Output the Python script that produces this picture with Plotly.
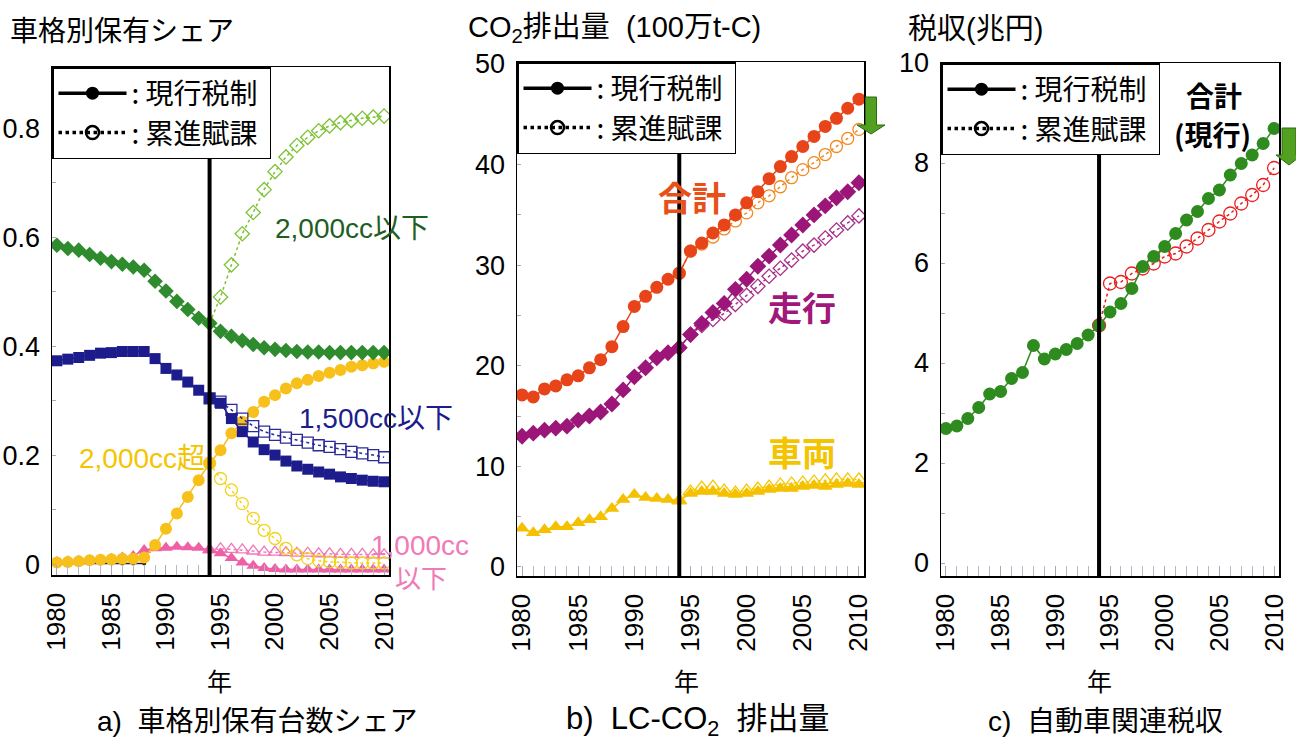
import plotly.graph_objects as go

W, H = 1296, 743
def px(x): return x / W
def py(y): return 1 - y / H

years = list(range(1980, 2011))
years_prog = list(range(1994, 2011))
years_other = list(range(1980, 1989))

# ---- a) 車格別保有台数シェア ----
share_2000below_cur = [0.585, 0.579, 0.576, 0.568, 0.561, 0.555, 0.550, 0.545, 0.539, 0.519, 0.501,
                       0.482, 0.467, 0.451, 0.442, 0.427, 0.418, 0.410, 0.403, 0.397, 0.394,
                       0.392, 0.390, 0.389, 0.389, 0.388, 0.388, 0.388, 0.388, 0.388, 0.388]
share_2000below_prog = [0.442, 0.490, 0.549, 0.606, 0.645, 0.687, 0.720, 0.747, 0.768, 0.783,
                        0.795, 0.804, 0.810, 0.814, 0.818, 0.820, 0.822]
share_1500below_cur = [0.373, 0.376, 0.379, 0.383, 0.387, 0.388, 0.390, 0.390, 0.390, 0.377, 0.359,
                       0.347, 0.334, 0.319, 0.304, 0.295, 0.267, 0.243, 0.224, 0.210, 0.200,
                       0.189, 0.180, 0.174, 0.169, 0.165, 0.160, 0.157, 0.154, 0.152, 0.151]
share_1500below_prog = [0.304, 0.298, 0.283, 0.267, 0.253, 0.243, 0.237, 0.232, 0.228, 0.223,
                        0.218, 0.215, 0.211, 0.206, 0.203, 0.200, 0.196]
share_2000over_cur = [0.003, 0.004, 0.005, 0.007, 0.008, 0.009, 0.010, 0.010, 0.012, 0.035, 0.065,
                      0.093, 0.123, 0.154, 0.185, 0.209, 0.240, 0.261, 0.279, 0.298, 0.310,
                      0.322, 0.332, 0.338, 0.345, 0.351, 0.356, 0.362, 0.365, 0.368, 0.371]
share_2000over_prog = [0.185, 0.157, 0.136, 0.111, 0.084, 0.062, 0.047, 0.029, 0.017, 0.010,
                       0.006, 0.004, 0.003, 0.002, 0.002, 0.002, 0.002]
share_1000below_cur = [0.004, 0.005, 0.006, 0.007, 0.008, 0.010, 0.012, 0.015, 0.026, 0.029, 0.030,
                       0.032, 0.031, 0.030, 0.026, 0.020, 0.011, 0.003, -0.003, -0.007, -0.009,
                       -0.010, -0.010, -0.010, -0.010, -0.010, -0.010, -0.010, -0.010, -0.010, -0.010]
share_1000below_prog = [0.026, 0.028, 0.027, 0.026, 0.024, 0.022, 0.022, 0.021, 0.020, 0.020,
                        0.019, 0.019, 0.018, 0.018, 0.018, 0.017, 0.017]
share_other = [0.001, 0.001, 0.001, 0.001, 0.001, 0.001, 0.001, 0.001, 0.001]

# ---- b) LC-CO2 排出量 ----
co2_total_cur = [17.1, 16.9, 17.7, 18.0, 18.6, 19.0, 19.8, 20.6, 21.9, 23.9, 25.9,
                 26.9, 27.8, 28.6, 29.2, 31.4, 32.2, 33.2, 34.0, 35.0, 36.2,
                 37.3, 38.6, 39.8, 40.8, 41.8, 42.8, 43.8, 44.6, 45.6, 46.5]
co2_total_prog = [29.2, 31.4, 32.1, 32.8, 33.6, 34.4, 35.2, 36.2, 36.9, 37.8, 38.7,
                  39.5, 40.2, 41.0, 41.8, 42.6, 43.5]
co2_run_cur = [13.0, 13.3, 13.6, 13.8, 14.0, 14.6, 15.0, 15.4, 16.2, 17.6, 18.9,
               19.8, 20.8, 21.3, 21.8, 23.1, 24.2, 25.3, 26.2, 27.6, 28.6,
               29.9, 30.9, 32.0, 33.0, 34.0, 35.0, 35.9, 36.7, 37.3, 38.2]
co2_run_prog = [21.8, 23.1, 24.0, 24.6, 25.2, 26.1, 27.0, 27.9, 28.9, 29.7, 30.5,
                31.4, 32.0, 32.7, 33.5, 34.2, 34.9]
co2_veh_cur = [3.85, 3.4, 3.7, 4.0, 4.0, 4.4, 4.7, 5.0, 5.8, 6.7, 7.2,
               6.9, 6.8, 6.7, 6.6, 7.3, 7.5, 7.5, 7.3, 7.2, 7.3,
               7.5, 7.7, 7.8, 7.8, 8.0, 8.1, 8.0, 8.2, 8.3, 8.2]
co2_veh_prog = [6.6, 7.5, 7.9, 8.0, 7.6, 7.4, 7.6, 7.8, 8.0, 8.2, 8.3,
                8.4, 8.5, 8.6, 8.7, 8.7, 8.7]

# ---- c) 自動車関連税収 ----
tax_cur = [2.69, 2.74, 2.89, 3.11, 3.38, 3.43, 3.69, 3.81, 4.35, 4.08, 4.18,
           4.27, 4.39, 4.56, 4.75, 5.02, 5.19, 5.49, 5.93, 6.13, 6.33,
           6.59, 6.86, 7.03, 7.29, 7.46, 7.76, 7.99, 8.16, 8.39, 8.69]
tax_prog = [4.75, 5.59, 5.62, 5.79, 5.89, 5.99, 6.13, 6.19, 6.33, 6.49, 6.66,
            6.83, 6.99, 7.19, 7.36, 7.56, 7.90]

policy_year = 1994

NUM = "Liberation Sans, Arial, sans-serif"
JP = "Noto Sans CJK JP, Liberation Sans, sans-serif"
MIX = "Liberation Sans, Noto Sans CJK JP, sans-serif"

fig = go.Figure()

def cur(x, y, color, symbol, size, ax, name):
    fig.add_trace(go.Scatter(x=x, y=y, mode="lines+markers", name=name, showlegend=False,
                             line=dict(color=color, width=1.5),
                             marker=dict(symbol=symbol, size=size, color=color),
                             xaxis=ax[0], yaxis=ax[1]))

def prog(x, y, color, symbol, size, ax, name):
    fig.add_trace(go.Scatter(x=x, y=y, mode="lines+markers", name=name, showlegend=False,
                             line=dict(color=color, width=1.5, dash="dot"),
                             marker=dict(symbol=symbol, size=size, color=color,
                                         line=dict(color=color, width=1.3)),
                             xaxis=ax[0], yaxis=ax[1]))

A = ("x", "y"); B = ("x2", "y2"); C = ("x3", "y3")

# panel a
cur(years_other, share_other, "#222222", "circle", 4, A, "その他")
prog(years_prog, share_1000below_prog, "#f07ab8", "triangle-up-open", 12, A, "1,000cc以下 累進")
cur(years, share_1000below_cur, "#ee5fa6", "triangle-up", 12, A, "1,000cc以下 現行")
prog(years_prog, share_2000over_prog, "#f2d21a", "circle-open", 12, A, "2,000cc超 累進")
cur(years, share_2000over_cur, "#f7c01a", "circle", 12, A, "2,000cc超 現行")
prog(years_prog, share_1500below_prog, "#2a2a9a", "square-open", 11, A, "1,500cc以下 累進")
cur(years, share_1500below_cur, "#1c1c8c", "square", 11, A, "1,500cc以下 現行")
prog(years_prog, share_2000below_prog, "#7cc234", "diamond-open", 11, A, "2,000cc以下 累進")
cur(years, share_2000below_cur, "#2e8b2e", "diamond", 12, A, "2,000cc以下 現行")

# panel b
prog(years_prog, co2_veh_prog, "#f5c800", "triangle-up-open", 13, B, "車両 累進")
cur(years, co2_veh_cur, "#f5c000", "triangle-up", 13, B, "車両 現行")
prog(years_prog, co2_run_prog, "#a8308a", "diamond-open", 11, B, "走行 累進")
cur(years, co2_run_cur, "#9c1578", "diamond", 13, B, "走行 現行")
prog(years_prog, co2_total_prog, "#f08a20", "circle-open", 12, B, "合計 累進")
cur(years, co2_total_cur, "#e8441a", "circle", 13, B, "合計 現行")

# panel c
prog(years_prog, tax_prog, "#e82020", "circle-open", 13, C, "税収 累進")
cur(years, tax_cur, "#2e8b1e", "circle", 13, C, "税収 現行")

# legends (one per panel)
for lg, ax in (("legend", A), ("legend2", B), ("legend3", C)):
    fig.add_trace(go.Scatter(x=[None], y=[None], mode="lines+markers", name=": 現行税制 ",
                             legend=lg, line=dict(color="black", width=3.5),
                             marker=dict(symbol="circle", size=13, color="black"),
                             xaxis=ax[0], yaxis=ax[1]))
    fig.add_trace(go.Scatter(x=[None], y=[None], mode="lines+markers", name=": 累進賦課 ",
                             legend=lg, line=dict(color="black", width=3.5, dash="dot"),
                             marker=dict(symbol="circle-open", size=13, color="black",
                                         line=dict(width=2.5, color="black")),
                             xaxis=ax[0], yaxis=ax[1]))

dom = {
    "a": ([52, 389], [67, 575]),
    "b": ([517, 864], [62, 576]),
    "c": ([941, 1279], [63, 576]),
}
def xd(k): return [px(dom[k][0][0]), px(dom[k][0][1])]
def yd(k): return [py(dom[k][1][1]), py(dom[k][1][0])]

xtickfont = dict(family=NUM, size=26, color="black")
ytickfont = dict(family=NUM, size=27, color="black")
xcommon = dict(range=[1979.55, 2010.45], tickmode="linear", tick0=1980, dtick=5, tickangle=-90,
               ticks="inside", ticklen=10, tickcolor="#a8a8b8", tickwidth=1,
               minor=dict(dtick=1, ticks="inside", ticklen=10, tickcolor="#b8b8c8", tickwidth=1),
               showgrid=False, zeroline=False, showline=True, linecolor="black", linewidth=1.5,
               mirror=True, tickfont=xtickfont, ticklabelstandoff=6, automargin=False)
ycommon = dict(ticks="inside", ticklen=4, tickcolor="#a8a8b8", showgrid=False, zeroline=False,
               showline=True, linecolor="black", linewidth=1.5, mirror=True, tickfont=ytickfont,
               ticklabelstandoff=5, automargin=False)

fig.update_layout(
    template="none",
    width=W, height=H, margin=dict(l=0, r=0, t=0, b=0, pad=0), autosize=False,
    paper_bgcolor="white", plot_bgcolor="white",
    xaxis=dict(domain=xd("a"), anchor="y", **xcommon),
    yaxis=dict(domain=yd("a"), anchor="x", range=[-0.02, 0.912],
               tickvals=[0, 0.2, 0.4, 0.6, 0.8], ticktext=["0", "0.2", "0.4", "0.6", "0.8"],
               minor=dict(tickvals=[0.1, 0.3, 0.5, 0.7], ticks="inside", ticklen=4, tickcolor="#a8a8b8"),
               **ycommon),
    xaxis2=dict(domain=xd("b"), anchor="y2", **xcommon),
    yaxis2=dict(domain=yd("b"), anchor="x2", range=[-0.9, 50.2], tickmode="linear", tick0=0, dtick=10,
                minor=dict(dtick=5, ticks="inside", ticklen=4, tickcolor="#a8a8b8"), **ycommon),
    xaxis3=dict(domain=xd("c"), anchor="y3", **xcommon),
    yaxis3=dict(domain=yd("c"), anchor="x3", range=[-0.26, 10.0], tickmode="linear", tick0=0, dtick=2,
                minor=dict(dtick=1, ticks="inside", ticklen=4, tickcolor="#a8a8b8"), **ycommon),
)

legstyle = dict(bgcolor="white", bordercolor="black", borderwidth=1.5, xanchor="left", yanchor="top",
                font=dict(family=JP, size=28, color="black"), itemwidth=68, tracegroupgap=0,
                itemclick=False)
fig.update_layout(
    legend=dict(x=px(52), y=py(67), **legstyle),
    legend2=dict(x=px(517), y=py(62), **legstyle),
    legend3=dict(x=px(941), y=py(63), **legstyle),
)

# policy change lines
for xr in ("x", "x2", "x3"):
    fig.add_shape(type="line", xref=xr, yref=xr.replace("x", "y") + " domain",
                  x0=policy_year, x1=policy_year, y0=0, y1=1,
                  line=dict(color="black", width=4))

# green arrows
def arrow(cx, top, mid, tip, sw, hw):
    path = (f"M {px(cx - sw)} {py(top)} L {px(cx + sw)} {py(top)} L {px(cx + sw)} {py(mid)} "
            f"L {px(cx + hw)} {py(mid)} L {px(cx)} {py(tip)} L {px(cx - hw)} {py(mid)} "
            f"L {px(cx - sw)} {py(mid)} Z")
    fig.add_shape(type="path", xref="paper", yref="paper", path=path,
                  fillcolor="#52a020", line=dict(color="#2f6a12", width=1))
arrow(871, 97, 125, 134, 5.5, 14)
arrow(1289, 128, 155, 165, 7, 13)

def txt(x, y, s, color="black", size=24, family=JP, anchor="left", bold=False):
    if bold:
        s = f"<b>{s}</b>"
    fig.add_annotation(x=px(x), y=py(y), xref="paper", yref="paper", text=s, showarrow=False,
                       xanchor=anchor, yanchor="middle",
                       font=dict(family=family, size=size, color=color))

# titles
txt(8, 29, "車格別保有シェア", size=28)
txt(466, 29, "CO<sub>2</sub>排出量  (100万t-C)", size=29, family=MIX)
txt(906, 29, "税収(兆円)", size=29, family=MIX)

# series labels panel a
txt(273, 228, "2,000cc以下", color="#1f5e1f", size=28, family=MIX)
txt(297, 418, "1,500cc以下", color="#1c1c8c", size=28, family=MIX)
txt(77, 458, "2,000cc超", color="#f5c400", size=28, family=MIX)
txt(369, 545, "1,000cc", color="#f07ab8", size=28, family=MIX)
txt(393, 579, "以下", color="#f07ab8", size=26, family=MIX)

# series labels panel b
txt(656, 196, "合計", color="#e8501a", size=34, bold=True)
txt(766, 307, "走行", color="#a0187a", size=34, bold=True)
txt(766, 451, "車両", color="#f5c400", size=34, bold=True)

# panel c label
txt(1214, 95, "合計", size=28, anchor="center", bold=True)
txt(1212, 134, "(現行)", size=28, anchor="center", bold=True)

# axis titles and captions
for xc in (219, 686, 1099):
    txt(xc, 680, "年", size=25, anchor="center")
txt(257, 721, "a)  車格別保有台数シェア", size=28, anchor="center", family=MIX)
txt(698, 721, "b)  LC-CO<sub>2</sub>  排出量", size=31, anchor="center", family=MIX)
txt(1105, 721, "c)  自動車関連税収", size=28, anchor="center", family=MIX)

fig.write_html("out.html",
               config={"displayModeBar": False, "staticPlot": True},
               post_script="document.body.style.margin='0px';document.body.style.overflow='hidden';")
